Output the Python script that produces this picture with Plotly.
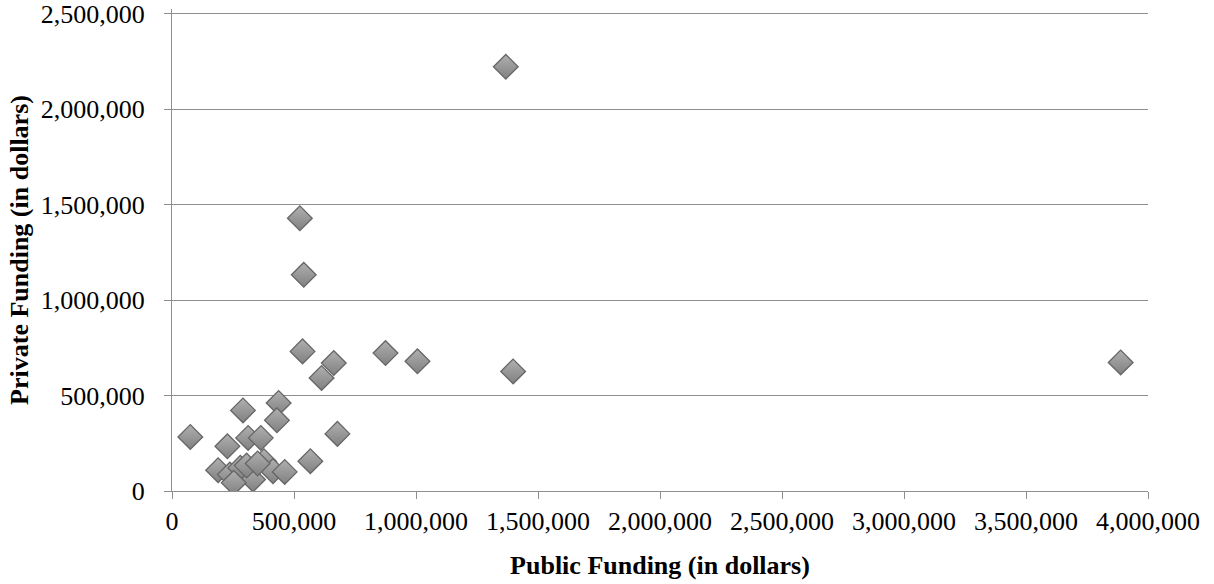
import plotly.graph_objects as go

public_funding = [75000, 227000, 291000, 312000, 364000, 437000, 430000, 377000,
                  189000, 237000, 280000, 332000, 253000, 414000, 462000, 567000,
                  678000, 535000, 663000, 613000, 875000, 1006000, 524000, 540000,
                  1398000, 3888000, 1368000, 306000, 351000]
private_funding = [283000, 234000, 422000, 278000, 278000, 461000, 370000, 156000,
                   109000, 86000, 121000, 60000, 43000, 104000, 100000, 156000,
                   299000, 731000, 670000, 592000, 722000, 679000, 1428000, 1132000,
                   626000, 673000, 2221000, 133000, 144000]

x_ticks = [0, 500000, 1000000, 1500000, 2000000, 2500000, 3000000, 3500000, 4000000]
y_ticks = [0, 500000, 1000000, 1500000, 2000000, 2500000]

FONT = "Liberation Serif, Times New Roman, serif"
GRID = "#8f8f8f"

fig = go.Figure()
fig.add_trace(go.Scatter(
    x=public_funding, y=private_funding, mode="markers",
    marker=dict(symbol="diamond", size=19, color="#b0b0b0",
                gradient=dict(type="vertical", color="#808080"),
                line=dict(color="#666666", width=1.3)),
    hoverinfo="x+y", showlegend=False,
))

fig.update_layout(
    width=1214, height=584,
    margin=dict(l=172, r=66, t=9, b=93, autoexpand=False),
    paper_bgcolor="white", plot_bgcolor="white",
    font=dict(family=FONT, size=26, color="black"),
    xaxis=dict(
        range=[0, 4000000], tickvals=x_ticks,
        ticktext=[f"{v:,}" for v in x_ticks],
        showgrid=False, zeroline=False,
        showline=True, linecolor=GRID, linewidth=1.3,
        ticks="outside", ticklen=7, tickcolor=GRID, tickwidth=1.3,
        tickfont=dict(family=FONT, size=26),
        title=dict(text="<b>Public Funding (in dollars)</b>",
                   font=dict(family=FONT, size=26), standoff=20),
        automargin=False,
    ),
    yaxis=dict(
        range=[0, 2523600], tickvals=y_ticks,
        ticktext=[f"{v:,}" for v in y_ticks],
        showgrid=True, gridcolor=GRID, gridwidth=1.3, zeroline=False,
        showline=True, linecolor=GRID, linewidth=1.3,
        ticks="outside", ticklen=7, tickcolor=GRID, tickwidth=1.3,
        tickfont=dict(family=FONT, size=26),
        ticklabelstandoff=14, ticklabeloverflow="allow",
        title=dict(text="<b>Private Funding (in dollars)</b>",
                   font=dict(family=FONT, size=26), standoff=4),
        automargin=False,
    ),
)

fig.write_html("out.html")
